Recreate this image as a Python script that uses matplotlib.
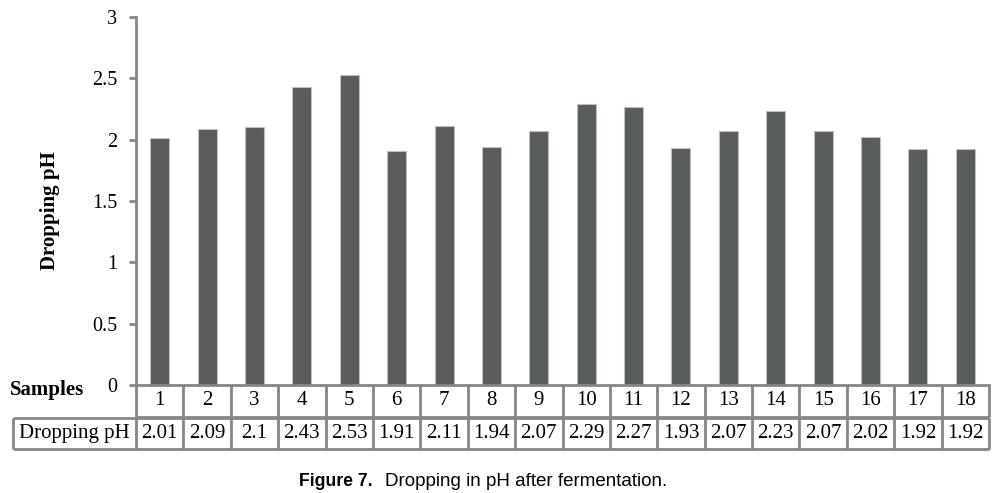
import matplotlib
matplotlib.use("Agg")
import matplotlib.pyplot as plt

# data
samples = [str(i) for i in range(1, 19)]
ph_drop = [2.01, 2.09, 2.1, 2.43, 2.53, 1.91, 2.11, 1.94, 2.07,
           2.29, 2.27, 1.93, 2.07, 2.23, 2.07, 2.02, 1.92, 1.92]
ph_labels = ['2.01', '2.09', '2.1', '2.43', '2.53', '1.91', '2.11', '1.94', '2.07',
             '2.29', '2.27', '1.93', '2.07', '2.23', '2.07', '2.02', '1.92', '1.92']
yticks = [0, 0.5, 1, 1.5, 2, 2.5, 3]
ytick_labels = ['0', '0.5', '1', '1.5', '2', '2.5', '3']

plt.rcParams['font.family'] = ['Liberation Serif', 'DejaVu Serif']
grey = '#868686'

fig = plt.figure(figsize=(10.01, 4.93), dpi=100)
ax = fig.add_axes([136 / 1001, 1 - 385 / 493, 853 / 1001, 368 / 493])

x = list(range(len(samples)))
ax.bar(x, ph_drop, width=0.4, color='#595c5c', edgecolor='#c0c0c0', linewidth=0.8)

ax.set_xlim(-0.5, len(samples) - 0.5)
ax.set_ylim(0, 3)
ax.set_yticks(yticks)
ax.set_yticklabels(ytick_labels, fontsize=14.5)
ax.set_xticks([])
for s in ['top', 'right']:
    ax.spines[s].set_visible(False)
ax.spines['left'].set_color(grey)
ax.spines['bottom'].set_color(grey)
ax.spines['left'].set_linewidth(2)
ax.spines['bottom'].set_linewidth(2)
ax.tick_params(axis='y', colors=grey, length=5, width=2, labelcolor='black', pad=8.5)

ax.set_ylabel('Dropping pH', fontsize=15, fontweight='bold')
ax.yaxis.set_label_coords(-0.089, 0.473)

# data table under the axis (y in data units, 1 unit ~ 122.7 px)
unit = 368 / 3
r1_bot = -31.5 / unit
r2_top = -33 / unit
r2_bot = -64 / unit
left_edge = -0.5 - (136 - 13) / (853 / 18)
right_edge = len(samples) - 0.5
kw = dict(color=grey, lw=2, clip_on=False, solid_capstyle='butt')

# row 1: sample numbers
ax.plot([-0.5, right_edge], [r1_bot, r1_bot], **kw)
for b in range(len(samples) + 1):
    ax.plot([b - 0.5, b - 0.5], [0, r1_bot], **kw)
for xi, s in zip(x, samples):
    ax.text(xi, r1_bot / 2, s, ha='center', va='center', fontsize=15, clip_on=False)

# row 2: values
ax.plot([left_edge, right_edge], [r2_top, r2_top], **kw)
ax.plot([left_edge, right_edge], [r2_bot, r2_bot], **kw)
ax.plot([left_edge, left_edge], [r2_top, r2_bot], **kw)
for b in range(len(samples) + 1):
    ax.plot([b - 0.5, b - 0.5], [r2_top, r2_bot], **kw)
ymid = (r2_top + r2_bot) / 2
ax.text((left_edge - 0.5) / 2, ymid, 'Dropping pH', ha='center', va='center', fontsize=15, clip_on=False)
for xi, s in zip(x, ph_labels):
    ax.text(xi, ymid, s, ha='center', va='center', fontsize=15, clip_on=False)

ax.text(-0.5 - (136 - 10) / (853 / 18), -5 / unit, 'Samples', ha='left', va='center',
        fontsize=15, fontweight='bold', clip_on=False)

# caption
fig.text(299 / 1001, 1 - 481 / 493, 'Figure 7.', ha='left', va='center', fontsize=12.7,
         fontweight='bold', family=['Liberation Sans', 'DejaVu Sans'])
fig.text(385 / 1001, 1 - 481 / 493, 'Dropping in pH after fermentation.', ha='left', va='center',
         fontsize=13.5, family=['Liberation Sans', 'DejaVu Sans'])

fig.savefig('out.png', dpi=100)
